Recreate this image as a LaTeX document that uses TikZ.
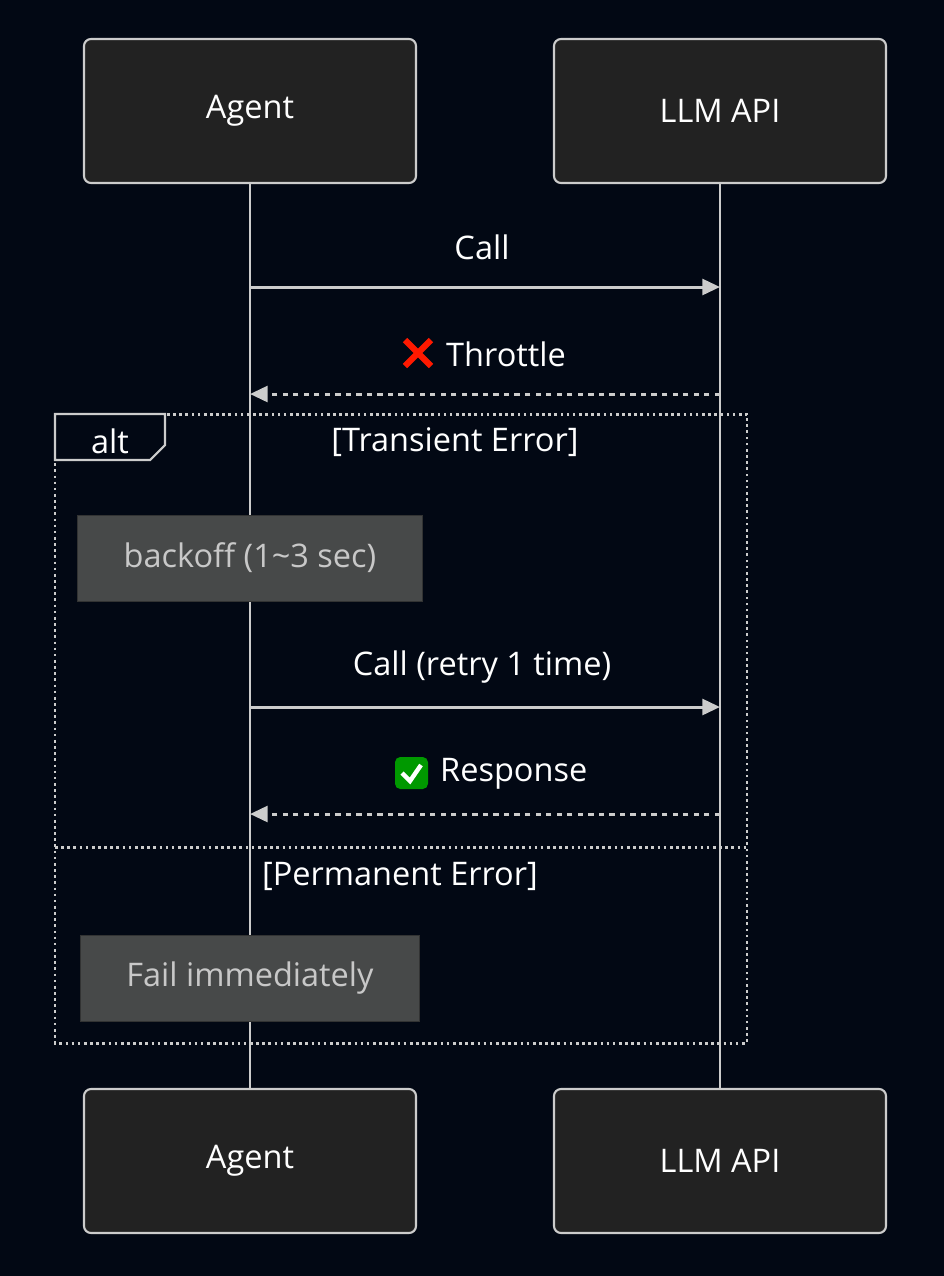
\documentclass[tikz,border=0pt]{standalone}
\usepackage{fontspec}
\setmainfont{Open Sans}
\usetikzlibrary{arrows.meta}
\definecolor{bgdark}{HTML}{020814}
\definecolor{actorfill}{HTML}{222222}
\definecolor{linegray}{HTML}{CCCCCC}
\definecolor{notefill}{HTML}{474949}
\definecolor{notetext}{HTML}{C8C8C8}
\tikzset{
  actor/.style={draw=linegray, fill=actorfill, rounded corners=4pt, line width=1.2pt,
    minimum width=332*0.02cm, minimum height=144*0.02cm, text=white},
  note/.style={draw=notefill!70!black, fill=notefill, minimum height=86*0.02cm, text=notetext},
  msg/.style={linegray, line width=1.7pt, -{Triangle[length=10pt,width=9pt]}},
  reply/.style={msg, dash pattern=on 3pt off 3pt},
  frame/.style={linegray, line width=1.7pt, dash pattern=on 1.5pt off 2pt},
  lbl/.style={text=white}
}
\begin{document}
\begin{tikzpicture}[x=0.02cm, y=-0.02cm, font=\fontsize{18.5}{22}\selectfont]
    \fill[bgdark] (0,0) rectangle (944,1276);
    \useasboundingbox (0,0) rectangle (944,1276);
    % lifelines
    \draw[linegray, line width=1.7pt] (250,181) -- (250,1088);
    \draw[linegray, line width=1.7pt] (720,181) -- (720,1088);
    % actors
    \node[actor] (agentTop) at (250,111) {Agent};
    \node[actor] (apiTop) at (720,111) {LLM API};
    \node[actor] (agentBot) at (250,1161) {Agent};
    \node[actor] (apiBot) at (720,1161) {LLM API};
    % alt frame
    \draw[frame] (55,414) rectangle (747,1043);
    \draw[frame] (55,847) -- (747,847);
    \draw[linegray, line width=1.2pt, fill=bgdark] (55,414) -- (165,414) -- (165,445) -- (150,460) -- (55,460) -- cycle;
    \node[lbl] (altTag) at (110,441) {alt};
    \node[lbl] (transient) at (455,442) {[Transient Error]};
    \node[lbl] (permanent) at (400,876) {[Permanent Error]};
    % message anchors
    \coordinate (a1) at (250,287); \coordinate (b1) at (720,287);
    \coordinate (a2) at (250,394); \coordinate (b2) at (720,394);
    \coordinate (a3) at (250,707); \coordinate (b3) at (720,707);
    \coordinate (a4) at (250,814); \coordinate (b4) at (720,814);
    \draw[msg] (a1) -- (b1);
    \node[lbl] (call) at (482,247) {Call};
    \draw[reply] (b2) -- (a2);
    \node[lbl, anchor=west] (throttle) at (440,354) {Throttle};
    \draw[red!80!orange, line width=3.5pt] (405,340) -- (431,366) (431,340) -- (405,366);
    \node[note, minimum width=345*0.02cm] (backoff) at (250,558) {backoff (1\textasciitilde3 sec)};
    \draw[msg] (a3) -- (b3);
    \node[lbl] (retry) at (482,667) {Call (retry 1 time)};
    \draw[reply] (b4) -- (a4);
    \node[lbl, anchor=west] (response) at (434,774) {Response};
    \fill[green!60!black, rounded corners=3pt] (395,757) rectangle (428,789);
    \draw[white, line width=2.5pt] (402,773) -- (410,781) -- (421,765);
    \node[note, minimum width=339*0.02cm] (fail) at (250,978) {Fail immediately};
\end{tikzpicture}
\end{document}
